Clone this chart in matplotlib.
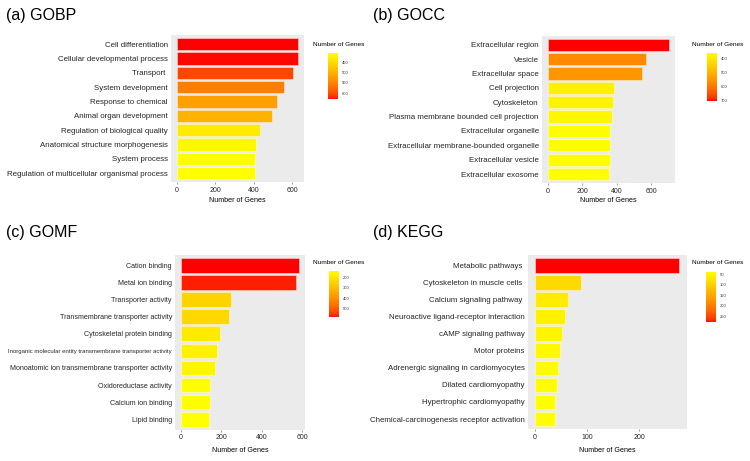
import numpy as np
import matplotlib
matplotlib.use("Agg")
import matplotlib.pyplot as plt
from matplotlib.colors import ListedColormap, Normalize
from matplotlib.cm import ScalarMappable

plt.rcParams['font.family'] = ['Liberation Sans', 'DejaVu Sans']

# ---------------- data ----------------
gobp_terms = ["Cell differentiation", "Cellular developmental process", "Transport ",
              "System development", "Response to chemical", "Animal organ development",
              "Regulation of biological quality", "Anatomical structure morphogenesis",
              "System process", "Regulation of multicellular organismal process"]
gobp_counts = [630, 629, 604, 556, 521, 497, 431, 413, 408, 406]
gobp_ticks = [0, 200, 400, 600]
gobp_cbar_ticks = [450, 500, 550, 600]

gocc_terms = ["Extracellular region", "Vesicle", "Extracellular space", "Cell projection",
              "Cytoskeleton", "Plasma membrane bounded cell projection",
              "Extracellular organelle", "Extracellular membrane-bounded organelle",
              "Extracellular vesicle", "Extracellular exosome"]
gocc_counts = [702, 568, 548, 384, 378, 370, 360, 360, 359, 355]
gocc_ticks = [0, 200, 400, 600]
gocc_cbar_ticks = [400, 500, 600, 700]

gomf_terms = ["Cation binding", "Metal ion binding", "Transporter activity",
              "Transmembrane transporter activity", "Cytoskeletal protein binding",
              "Inorganic molecular entity transmembrane transporter activity",
              "Monoatomic ion transmembrane transporter activity",
              "Oxidoreductase activity", "Calcium ion binding", "Lipid binding"]
gomf_counts = [585, 572, 249, 238, 193, 177, 167, 146, 143, 141]
gomf_ticks = [0, 200, 400, 600]
gomf_cbar_ticks = [200, 300, 400, 500]

kegg_terms = ["Metabolic pathways ", "Cytoskeleton in muscle cells ", "Calcium signaling pathway ",
              "Neuroactive ligand-receptor interaction", "cAMP signaling pathway",
              "Motor proteins", "Adrenergic signaling in cardiomyocytes",
              "Dilated cardiomyopathy", "Hypertrophic cardiomyopathy",
              "Chemical-carcinogenesis receptor activation"]
kegg_counts = [277, 87.6, 63, 58, 52, 47.6, 43.8, 41.8, 39.3, 38.7]
kegg_ticks = [0, 100, 200]
kegg_cbar_ticks = [50, 100, 150, 200, 250]

panel_titles = ["(a) GOBP", "(b) GOCC", "(c) GOMF", "(d) KEGG"]

# ---------------- yellow -> red gradient interpolated in Lab ----------------
_M = np.array([[0.4124564, 0.3575761, 0.1804375],
               [0.2126729, 0.7151522, 0.0721750],
               [0.0193339, 0.1191920, 0.9503041]])
_W = np.array([0.95047, 1.0, 1.08883])


def _to_lab(rgb):
    c = np.asarray(rgb, float)
    lin = np.where(c <= 0.04045, c / 12.92, ((c + 0.055) / 1.055) ** 2.4)
    xyz = _M @ lin / _W
    d = 6 / 29
    f = np.where(xyz > d ** 3, np.cbrt(xyz), xyz / (3 * d * d) + 4 / 29)
    return np.array([116 * f[1] - 16, 500 * (f[0] - f[1]), 200 * (f[1] - f[2])])


def _from_lab(lab):
    L, a, b = lab
    fy = (L + 16) / 116
    fx = fy + a / 500
    fz = fy - b / 200
    d = 6 / 29
    f = np.array([fx, fy, fz])
    xyz = np.where(f > d, f ** 3, 3 * d * d * (f - 4 / 29)) * _W
    lin = np.linalg.solve(_M, xyz)
    lin = np.clip(lin, 0, 1)
    c = np.where(lin <= 0.0031308, 12.92 * lin, 1.055 * lin ** (1 / 2.4) - 0.055)
    return np.clip(c, 0, 1)


_l0 = _to_lab([1, 1, 0])
_l1 = _to_lab([1, 0, 0])
cmap = ListedColormap([_from_lab(_l0 + (_l1 - _l0) * t) for t in np.linspace(0, 1, 256)])

# ---------------- layout ----------------
W, H = 750, 461
fig = plt.figure(figsize=(W / 100, H / 100), dpi=100)


def box(l, t, r, b):
    return [l / W, 1 - b / H, (r - l) / W, (b - t) / H]


panels = [
    dict(terms=gobp_terms, counts=gobp_counts, ticks=gobp_ticks, cticks=gobp_cbar_ticks,
         ax=(171, 35.5, 304, 181.7), cb=(328.3, 53.3, 337.7, 99.3), ct=(313, 44.3),
         title=(6, 15.5), fs=5.7, xl=200.7),
    dict(terms=gocc_terms, counts=gocc_counts, ticks=gocc_ticks, cticks=gocc_cbar_ticks,
         ax=(541.7, 36, 675, 182.7), cb=(707.3, 52.7, 716.7, 101), ct=(691.7, 45),
         title=(372.7, 15.5), fs=5.7, xl=200.7),
    dict(terms=gomf_terms, counts=gomf_counts, ticks=gomf_ticks, cticks=gomf_cbar_ticks,
         ax=(175, 255, 305, 429.5), cb=(329.3, 271, 339, 317.3), ct=(313.3, 262.7),
         title=(6, 232), fs=5.1, xl=450),
    dict(terms=kegg_terms, counts=kegg_counts, ticks=kegg_ticks, cticks=kegg_cbar_ticks,
         ax=(527.7, 255, 686.7, 429.3), cb=(706, 271.7, 716, 322.3), ct=(691.7, 262.3),
         title=(372.7, 232), fs=5.7, xl=450),
]

txt_col = "#262626"

for p, ttl in zip(panels, panel_titles):
    counts = np.array(p["counts"], float)
    n = len(counts)
    norm = Normalize(vmin=counts.min(), vmax=counts.max())
    ax = fig.add_axes(box(*p["ax"]))
    ax.set_facecolor("#EBEBEB")
    ypos = np.arange(n)
    ax.barh(ypos, counts, height=0.85, color=cmap(norm(counts)),
            edgecolor=(1, 1, 1, 0.55), linewidth=0.5)
    ax.set_ylim(n - 0.4, -0.6)
    ax.set_xlim(-0.05 * counts.max(), 1.05 * counts.max())
    ax.set_yticks(ypos)
    labels = ax.set_yticklabels(p["terms"], fontsize=p["fs"], color=txt_col)
    for lab in labels:
        if lab.get_text().startswith("Inorganic"):
            lab.set_fontsize(4.35)
    ax.set_xticks(p["ticks"])
    ax.set_xticklabels([str(t) for t in p["ticks"]], fontsize=5.0, color=txt_col)
    ax.tick_params(axis="x", length=1.5, width=0.4, color="#555555", pad=2.0)
    ax.tick_params(axis="y", length=0, pad=2.2)
    for s in ax.spines.values():
        s.set_visible(False)
    # x label
    l, t, r, b = p["ax"]
    fig.text((l + r) / 2 / W, 1 - p["xl"] / H, "Number of Genes", fontsize=5.1,
             color="black", ha="center", va="center")
    # panel title
    fig.text(p["title"][0] / W, 1 - p["title"][1] / H, ttl, fontsize=11.5,
             color="black", ha="left", va="center")
    # colorbar
    cax = fig.add_axes(box(*p["cb"]))
    cb = fig.colorbar(ScalarMappable(norm=norm, cmap=cmap), cax=cax)
    cax.invert_yaxis()
    cb.outline.set_visible(False)
    cb.set_ticks(p["cticks"])
    cb.set_ticklabels([str(v) for v in p["cticks"]])
    cax.tick_params(length=0, labelsize=3.0, pad=3, labelcolor="#333333")
    fig.text(p["ct"][0] / W, 1 - p["ct"][1] / H, "Number of Genes", fontsize=4.65,
             color="black", ha="left", va="center")

fig.savefig("out.png", dpi=100, facecolor="white")
